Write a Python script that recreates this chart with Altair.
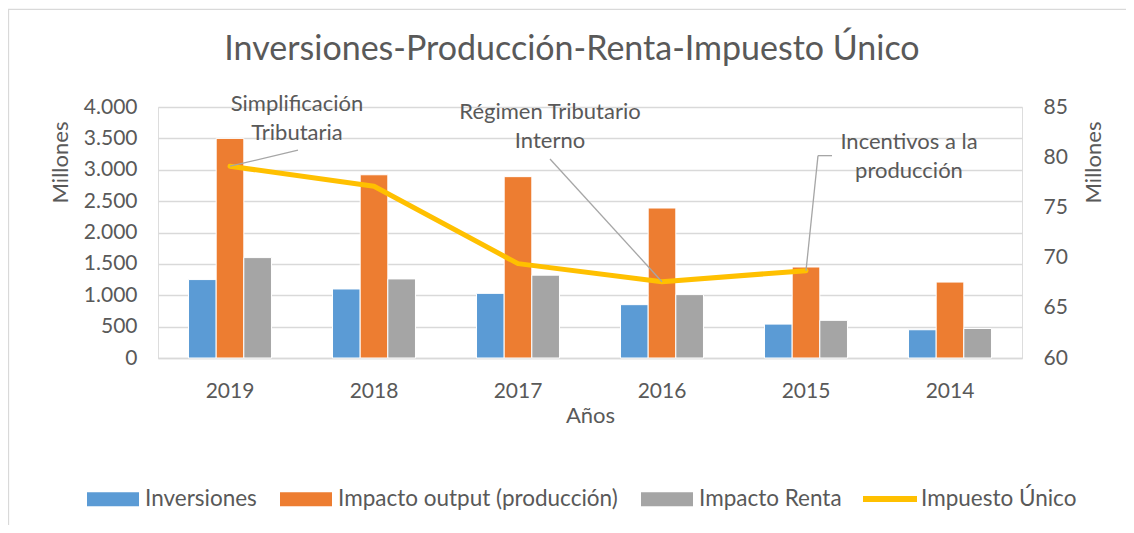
import altair as alt
import pandas as pd

# ---------------- data ----------------
years = ["2019", "2018", "2017", "2016", "2015", "2014"]
inversiones = [1250, 1100, 1030, 850, 540, 450]
impacto_output = [3500, 2920, 2890, 2390, 1450, 1210]
impacto_renta = [1600, 1260, 1320, 1010, 600, 470]
impuesto_unico = [79.1, 77.1, 69.4, 67.6, 68.7, None]

bar_series = ["Inversiones", "Impacto output (producción)", "Impacto Renta"]
bar_colors = ["#5B9BD5", "#ED7D31", "#A5A5A5"]
line_series = "Impuesto Único"
line_color = "#FFC000"

annot_labels = ["Simplificación\nTributaria", "Régimen Tributario\nInterno", "Incentivos a la\nproducción"]
annot_years = ["2019", "2016", "2015"]

TXT = "#595959"
GRID = "#D9D9D9"
FONT = "Lato"

rows = []
for i, y in enumerate(years):
    for s, vals in zip(bar_series, [inversiones, impacto_output, impacto_renta]):
        rows.append({"year": y, "serie": s, "valor": vals[i]})
bars_df = pd.DataFrame(rows)

line_df = pd.DataFrame({"year": years, "valor": impuesto_unico, "serie": line_series}).dropna()

val_of = dict(zip(years, impuesto_unico))
annot_df = pd.DataFrame({
    "year": annot_years,
    "label": annot_labels,
    "valor": [val_of[y] for y in annot_years],
})

W, H = 864, 251

x_enc = alt.X("year:N", sort=years,
              scale=alt.Scale(paddingInner=0.424, paddingOuter=0.212),
              axis=alt.Axis(title="Años", labelFontSize=21, labelColor=TXT, labelFont=FONT,
                            labelPadding=22, labelAngle=0, ticks=False, domain=True,
                            domainColor=GRID, domainWidth=1.5,
                            titleFontSize=22, titleColor=TXT, titleFont=FONT,
                            titleFontWeight="normal", titleY=64, titleBaseline="alphabetic"))

bars = alt.Chart(bars_df).mark_bar(stroke="white", strokeWidth=1).encode(
    x=x_enc,
    xOffset=alt.XOffset("serie:N", sort=bar_series, scale=alt.Scale(paddingInner=0, paddingOuter=0)),
    y=alt.Y("valor:Q", scale=alt.Scale(domain=[0, 4000], nice=False),
            axis=alt.Axis(title="Millones", orient="left", values=list(range(0, 4001, 500)),
                          labelExpr="replace(format(datum.value, ','), ',', '.')",
                          labelFontSize=21, labelColor=TXT, labelFont=FONT, labelPadding=21,
                          ticks=False, domain=False, grid=True, gridColor=GRID, gridWidth=1.5,
                          titleFontSize=22, titleColor=TXT, titleFont=FONT, titleFontWeight="normal",
                          titleX=-98, titleY=55, titleAngle=-90, titleAlign="center",
                          titleBaseline="middle")),
    fill=alt.Fill("serie:N", sort=bar_series,
                  scale=alt.Scale(domain=bar_series, range=bar_colors),
                  legend=alt.Legend(title=None, orient="none", legendX=-71, legendY=366,
                                    direction="horizontal",
                                    symbolType="M-1,-0.27L1,-0.27L1,0.27L-1,0.27Z",
                                    symbolSize=2704, symbolStrokeWidth=0,
                                    labelFontSize=22.5, labelColor=TXT, labelFont=FONT,
                                    labelOffset=6, columnPadding=23, labelLimit=400)),
)

yr = alt.Scale(domain=[60, 85], nice=False)

line = alt.Chart(line_df).mark_line(strokeWidth=5, strokeCap="round", strokeJoin="round").encode(
    x=alt.X("year:N", sort=years),
    y=alt.Y("valor:Q", scale=yr,
            axis=alt.Axis(title="Millones", orient="right", values=list(range(60, 86, 5)),
                          labelFontSize=21, labelColor=TXT, labelFont=FONT, labelPadding=21,
                          ticks=False, domain=False, grid=False,
                          titleFontSize=22, titleColor=TXT, titleFont=FONT, titleFontWeight="normal",
                          titleX=71, titleY=55, titleAngle=-90, titleAlign="center",
                          titleBaseline="middle")),
    stroke=alt.Stroke("serie:N", scale=alt.Scale(domain=[line_series], range=[line_color]),
                      legend=alt.Legend(title=None, orient="none", legendX=702, legendY=362,
                                        symbolType="stroke", symbolSize=2916,
                                        symbolStrokeWidth=6, labelLimit=400,
                                        labelFontSize=22.5, labelColor=TXT, labelFont=FONT,
                                        labelOffset=1)),
)

# annotation leaders / labels (offsets in px from the point they describe)
offsets = {
    "2019": dict(l=[(0, 0, 68, -16)], t=(67, -62)),
    "2016": dict(l=[(0, 0, -112, -122.7)], t=(-112, -170)),
    "2015": dict(l=[(0, 0, 12, -115), (12, -115, 26, -115)], t=(103, -129)),
}

layers = [bars, line]
for yv, lab in zip(annot_years, annot_labels):
    sub = annot_df[annot_df.year == yv]
    o = offsets[yv]
    for (x1, y1, x2, y2) in o["l"]:
        layers.append(
            alt.Chart(sub).mark_rule(color="#A6A6A6", strokeWidth=1.3,
                                     xOffset=x1, yOffset=y1, x2Offset=x2, y2Offset=y2).encode(
                x=alt.X("year:N", sort=years), x2="year:N",
                y=alt.Y("valor:Q", scale=yr, axis=None), y2="valor:Q")
        )
    layers.append(
        alt.Chart(sub).mark_text(fontSize=22, font=FONT, color=TXT, lineBreak="\n",
                                 lineHeight=29, align="center", baseline="middle",
                                 dx=o["t"][0], dy=o["t"][1]).encode(
            x=alt.X("year:N", sort=years),
            y=alt.Y("valor:Q", scale=yr, axis=None),
            text="label:N")
    )

# chart frame (top and left border of the chart area)
frame_top = alt.Chart(annot_df.head(1)).mark_rule(color=GRID, strokeWidth=1.3).encode(
    x=alt.value(-150), x2=alt.value(970), y=alt.value(-97.7))
frame_left = alt.Chart(annot_df.head(1)).mark_rule(color=GRID, strokeWidth=1.3).encode(
    x=alt.value(-149.5), y=alt.value(-97.7), y2=alt.value(420))
layers += [frame_top, frame_left]

chart = alt.layer(*layers).resolve_scale(y="independent").properties(
    width=W, height=H,
    title=alt.TitleParams("Inversiones-Producción-Renta-Impuesto Único", fontSize=34,
                          font=FONT, color=TXT, fontWeight="normal", anchor="middle",
                          baseline="alphabetic", offset=0, dx=-18, dy=85),
    autosize=alt.AutoSizeParams(type="none"),
    padding={"left": 150, "top": 99, "right": 104, "bottom": 167},
).configure_view(stroke=None).configure(background="white")

chart.save("out.html", embed_options={"renderer": "svg", "actions": False})
